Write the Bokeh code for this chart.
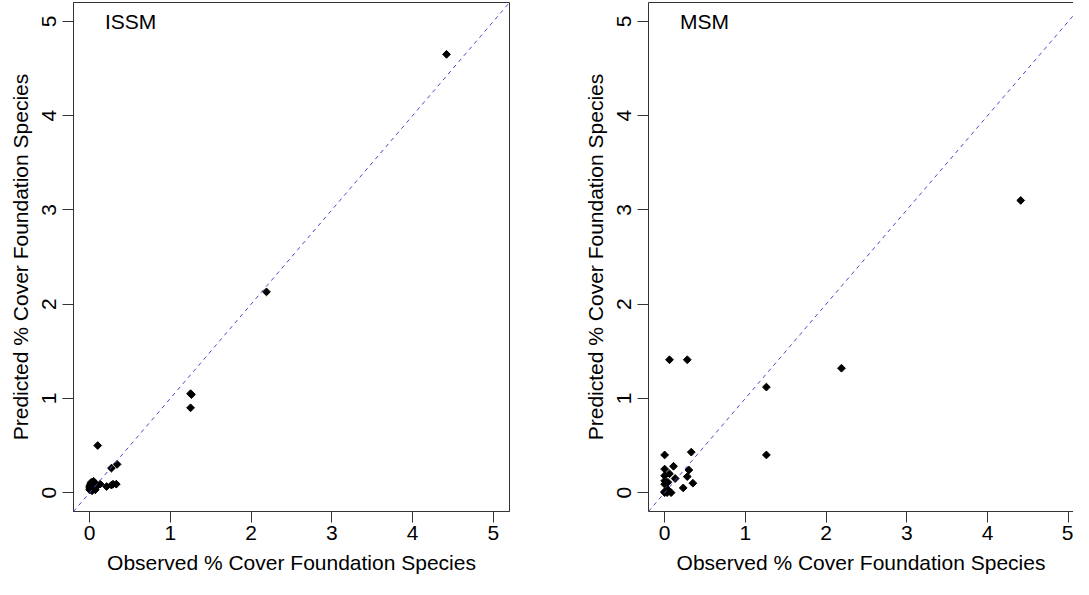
from bokeh.plotting import figure
from bokeh.models import Range1d, FixedTicker, Slope, Label, LinearAxis
from bokeh.layouts import row
from bokeh.embed import file_html
from bokeh.resources import INLINE

# ISSM panel: observed vs predicted % cover
issm_obs = [4.42, 2.19, 1.25, 1.26, 1.25, 0.10, 0.27, 0.34, 0.13, 0.21, 0.29, 0.27, 0.33,
            0.00, 0.01, 0.02, 0.00, 0.03, 0.05, 0.04, 0.02, 0.06, 0.07, 0.01, 0.03, 0.05,
            0.00, 0.08, 0.04, 0.06, 0.02]
issm_pred = [4.65, 2.13, 1.05, 1.04, 0.90, 0.50, 0.26, 0.30, 0.09, 0.065, 0.09, 0.08, 0.09,
             0.03, 0.05, 0.04, 0.07, 0.08, 0.12, 0.10, 0.06, 0.05, 0.03, 0.09, 0.02, 0.07,
             0.05, 0.06, 0.04, 0.10, 0.11]

# MSM panel
msm_obs = [4.41, 2.19, 1.26, 1.26, 0.06, 0.28, 0.00, 0.33, 0.00, 0.11, 0.06, 0.00, 0.30,
           0.13, 0.28, 0.35, 0.23, 0.00, 0.04, 0.00, 0.00, 0.03, 0.08, 0.00, 0.04]
msm_pred = [3.1, 1.32, 1.12, 0.40, 1.41, 1.41, 0.40, 0.43, 0.25, 0.28, 0.20, 0.18, 0.24,
            0.15, 0.17, 0.10, 0.05, 0.125, 0.11, 0.09, 0.01, 0.00, 0.00, 0.00, 0.03]

ticks = [0, 1, 2, 3, 4, 5]
panel_names = ["ISSM", "MSM"]
xlabel = "Observed % Cover Foundation Species"
ylabel = "Predicted % Cover Foundation Species"

FONT = "Liberation Sans"
FS = "21px"
EDGE = "#333333"


def style_axis(ax, show=True):
    ax.ticker = FixedTicker(ticks=ticks)
    ax.axis_line_color = EDGE
    ax.major_tick_line_color = EDGE if show else None
    ax.minor_tick_line_color = None
    ax.major_tick_out = 11 if show else 0
    ax.major_tick_in = 0
    ax.major_label_text_font = FONT
    ax.major_label_text_font_size = FS
    ax.major_label_text_color = "black"
    ax.axis_label_text_font = FONT
    ax.axis_label_text_font_size = FS
    ax.axis_label_text_font_style = "normal"
    ax.axis_label_text_color = "black"
    if not show:
        ax.major_label_text_alpha = 0
        ax.major_label_text_font_size = "1px"
        ax.major_label_standoff = 0


def make_panel(obs, pred, name, width, left_border, right_border, x_end, full_box):
    p = figure(width=width, height=579, output_backend="svg", toolbar_location=None,
               x_range=Range1d(-0.2, x_end), y_range=Range1d(-0.2, 5.2),
               min_border_left=left_border, min_border_right=right_border,
               min_border_top=2, min_border_bottom=68)
    p.grid.visible = False
    p.background_fill_color = "white"
    p.border_fill_color = "white"
    xb = p.below[0]
    yl = p.left[0]
    if full_box:
        p.outline_line_color = EDGE
        p.outline_line_width = 1
    else:
        p.outline_line_color = None
        top = LinearAxis(major_label_overrides={t: "" for t in ticks})
        style_axis(top, show=False)
        p.add_layout(top, "above")
    style_axis(xb)
    style_axis(yl)
    xb.axis_label = xlabel
    yl.axis_label = ylabel
    xb.major_label_standoff = 3
    xb.axis_label_standoff = 8
    yl.major_label_standoff = 6
    yl.axis_label_standoff = 8
    yl.major_label_orientation = "vertical"

    p.add_layout(Slope(gradient=1, y_intercept=0, line_color="#4a4ac8",
                       line_dash="4 4", line_width=1))
    p.scatter(obs, pred, marker="square", angle=0.785398, size=5.5, color="black")
    p.add_layout(Label(x=0.19, y=5.0, text=name, text_font=FONT, text_font_size=FS,
                       text_baseline="middle", text_color="black"))
    return p


p1 = make_panel(issm_obs, issm_pred, panel_names[0], 532, 73, 23, 5.2, True)
p2 = make_panel(msm_obs, msm_pred, panel_names[1], 541, 116, 0, -0.2 + 425 / 80.74, False)

layout = row(p1, p2)
open("out.html", "w").write(file_html(layout, INLINE))
